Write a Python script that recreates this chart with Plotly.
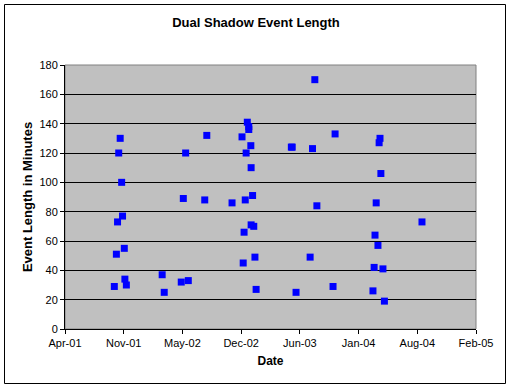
import plotly.graph_objects as go

dates = [
    "2001-10-04", "2001-10-11", "2001-10-15", "2001-10-19", "2001-10-24",
    "2001-10-29", "2001-11-01", "2001-11-07", "2001-11-09", "2001-11-14",
    "2002-03-16", "2002-03-23", "2002-05-20", "2002-05-27", "2002-06-04",
    "2002-06-13", "2002-08-08", "2002-08-15", "2002-11-09", "2002-12-13",
    "2002-12-17", "2002-12-20", "2002-12-24", "2002-12-27", "2002-12-31",
    "2003-01-05", "2003-01-05", "2003-01-12", "2003-01-13", "2003-01-13",
    "2003-01-18", "2003-01-22", "2003-01-26", "2003-01-30", "2003-05-30",
    "2003-06-02", "2003-06-15", "2003-08-02", "2003-08-10", "2003-08-18",
    "2003-08-25", "2003-10-19", "2003-10-26", "2004-03-03", "2004-03-07",
    "2004-03-10", "2004-03-14", "2004-03-20", "2004-03-24", "2004-03-27",
    "2004-03-30", "2004-04-06", "2004-04-11", "2004-08-17",
]
minutes = [
    29, 51, 73, 120, 130,
    100, 77, 55, 34, 30,
    37, 25, 32, 89, 120,
    33, 88, 132, 86, 131,
    45, 66, 88, 120, 141,
    138, 136, 125, 110, 71,
    91, 70, 49, 27, 124,
    124, 25, 49, 123, 170,
    84, 29, 133, 26, 42,
    64, 86, 57, 127, 130,
    106, 41, 19, 73,
]

x_range = ["2001-04-19", "2005-02-17"]
y_ticks = [0, 20, 40, 60, 80, 100, 120, 140, 160, 180]

FONT = "Liberation Sans, Arial, sans-serif"

fig = go.Figure()
fig.add_trace(go.Scatter(
    x=dates, y=minutes, mode="markers",
    marker=dict(symbol="square", size=7, color="#0000FF", line=dict(width=0)),
    showlegend=False,
))

W, H = 512, 391
L, R, T, B = 65, 36, 65, 62
pw, ph = W - L - R, H - T - B

def px_to_paper_x(px):
    return (px - L) / pw

def px_to_paper_y(py):
    return (H - B - py) / ph

fig.update_layout(
    width=W, height=H,
    margin=dict(l=L, r=R, t=T, b=B, pad=0),
    paper_bgcolor="white",
    plot_bgcolor="#C0C0C0",
    font=dict(family=FONT, size=11, color="black"),
    title=dict(text="<b>Dual Shadow Event Length</b>", x=0.5, xanchor="center",
               y=1 - 22 / H, yanchor="middle", font=dict(size=13, family=FONT)),
    xaxis=dict(
        type="date", range=x_range, tick0=x_range[0], dtick=200 * 86400000,
        tickformat="%b-%y", ticks="outside", ticklen=4, tickcolor="black",
        showline=True, linecolor="black", linewidth=1, showgrid=False,
        zeroline=False, tickfont=dict(size=11),
        title=dict(text="<b>Date</b>", font=dict(size=12), standoff=8),
    ),
    yaxis=dict(
        range=[0, 180], tickvals=y_ticks, ticks="outside", ticklen=4,
        tickcolor="black", showline=True, linecolor="black", linewidth=1,
        showgrid=True, gridcolor="black", gridwidth=1, zeroline=False,
        tickfont=dict(size=11),
        title=dict(text="<b>Event Length in Minutes</b>", font=dict(size=13), standoff=3),
    ),
    shapes=[
        dict(type="rect", xref="paper", yref="paper", x0=0, x1=1, y0=0, y1=1,
             line=dict(color="#808080", width=1), fillcolor="rgba(0,0,0,0)", layer="below"),
        dict(type="rect", xref="paper", yref="paper",
             x0=px_to_paper_x(4.5), x1=px_to_paper_x(505.5),
             y0=px_to_paper_y(383.5), y1=px_to_paper_y(4.5),
             line=dict(color="black", width=1), fillcolor="rgba(0,0,0,0)", layer="above"),
    ],
)

fig.write_html("out.html", config={"displayModeBar": False},
               post_script="document.body.style.margin='0';")
